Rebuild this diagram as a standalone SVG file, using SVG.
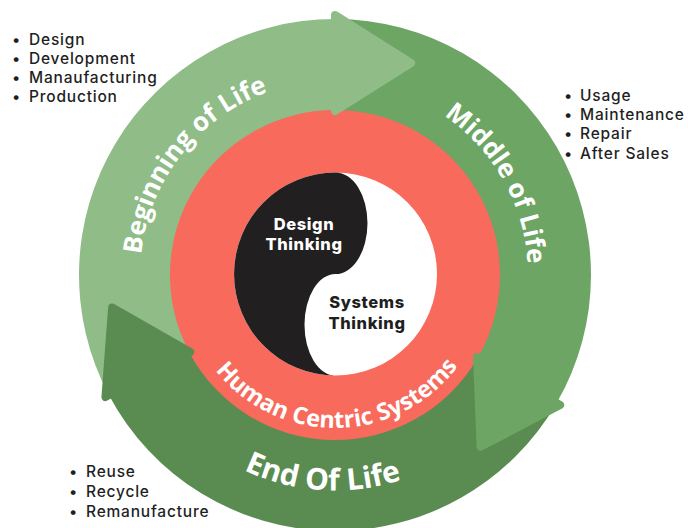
<svg xmlns="http://www.w3.org/2000/svg" width="688" height="528" viewBox="0 0 688 528">
<style>
.light{fill:#8fbc87}
.mid{fill:#6ca564}
.dark{fill:#5a8c52}
.head{stroke-width:8;stroke-linejoin:round}
.arc{font-family:"Open Sans","Liberation Sans",sans-serif;font-weight:700;fill:#ffffff}
.list{font-family:Inter,"Liberation Sans",sans-serif;font-weight:500;font-size:15.5px;letter-spacing:0.8px;fill:#1f1f1f}
.yy{font-family:Inter,"Liberation Sans",sans-serif;font-weight:800;font-size:16.5px;letter-spacing:0.6px;text-anchor:middle}
</style>
<defs>
<path id="pBeg" d="M144.26,315.54 A195,195 0 0 1 328.19,80.12"/>
<path id="pMid" d="M368.51,84.93 A193,193 0 0 1 515.18,344.17"/>
<path id="pEnd" d="M196.80,439.70 A213,213 0 0 0 452.10,455.31"/>
<path id="pHum" d="M191.23,327.33 A153,153 0 0 0 480.51,322.28"/>
</defs>
<rect width="688" height="528" fill="#ffffff"/>
<g id="human-centric-systems">
<circle cx="335" cy="275" r="166" fill="#f86a5c"/>
</g>
<g id="connectors">
<path class="light" d="M108.97,395.18 A256,256 0 0 1 335,19 L335,110 A165,165 0 0 0 189.31,352.46 Z"/>
<path class="mid" d="M335,19 A256,256 0 0 1 556.70,403 L477.89,357.5 A165,165 0 0 0 335,110 Z"/>
<path class="dark" d="M556.70,403 A256,256 0 0 1 108.97,395.18 L189.31,352.46 A165,165 0 0 0 477.89,357.5 Z"/>
<polygon class="light head" stroke="#8fbc87" points="335,111 335,15 411,63"/>
<polygon class="mid head" stroke="#6ca564" points="477.03,357 560.17,405 480.60,446.82"/>
<polygon class="dark head" stroke="#5a8c52" points="190.20,351.99 105.43,397.06 112.13,307.43"/>
</g>
<g id="beginning-of-life">
<text class="arc" font-size="26"><textPath href="#pBeg" startOffset="50%" text-anchor="middle">Beginning of Life</textPath></text>
<text class="list"><tspan x="12" y="45">•</tspan><tspan x="29" y="45">Design</tspan></text>
<text class="list"><tspan x="12" y="64">•</tspan><tspan x="29" y="64">Development</tspan></text>
<text class="list"><tspan x="12" y="83">•</tspan><tspan x="29" y="83">Manaufacturing</tspan></text>
<text class="list"><tspan x="12" y="102">•</tspan><tspan x="29" y="102">Production</tspan></text>
</g>
<g id="middle-of-life">
<text class="arc" font-size="26"><textPath href="#pMid" startOffset="50%" text-anchor="middle">Middle of Life</textPath></text>
<text class="list"><tspan x="564" y="101">•</tspan><tspan x="580" y="101">Usage</tspan></text>
<text class="list"><tspan x="564" y="120">•</tspan><tspan x="580" y="120">Maintenance</tspan></text>
<text class="list"><tspan x="564" y="139">•</tspan><tspan x="580" y="139">Repair</tspan></text>
<text class="list"><tspan x="564" y="159">•</tspan><tspan x="580" y="159">After Sales</tspan></text>
</g>
<g id="end-of-life">
<text class="arc" font-size="30"><textPath href="#pEnd" startOffset="50%" text-anchor="middle">End Of Life</textPath></text>
<text class="list"><tspan x="69" y="477">•</tspan><tspan x="86" y="477">Reuse</tspan></text>
<text class="list"><tspan x="69" y="497">•</tspan><tspan x="86" y="497">Recycle</tspan></text>
<text class="list"><tspan x="69" y="517">•</tspan><tspan x="86" y="517">Remanufacture</tspan></text>
</g>
<g id="human-centric-label">
<text class="arc" font-size="23.5"><textPath href="#pHum" startOffset="50%" text-anchor="middle">Human Centric Systems</textPath></text>
</g>
<g id="yin-yang">
<circle cx="335.5" cy="274" r="101.5" fill="#ffffff"/>
<path fill="#221f20" d="M335.5,172.5 A101.5,101.5 0 0 0 335.5,375.5 A31,50.75 0 0 1 335.5,274 A32,50.75 0 0 0 335.5,172.5 Z"/>
<text class="yy" fill="#ffffff"><tspan x="304" y="230">Design</tspan><tspan x="304" y="250">Thinking</tspan></text>
<text class="yy" fill="#1f1f1f"><tspan x="367" y="308">Systems</tspan><tspan x="367" y="329">Thinking</tspan></text>
</g>
</svg>
